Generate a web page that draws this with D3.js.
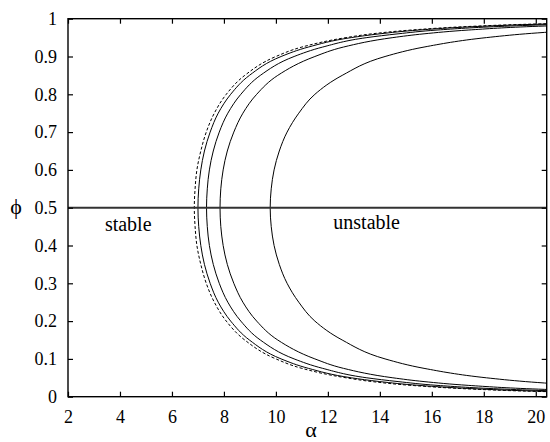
<!DOCTYPE html>
<html>
<head>
<meta charset="utf-8">
<script src="https://cdn.jsdelivr.net/npm/d3@7"></script>
<style>
  body { margin: 0; background: #fff; }
  svg { display: block; }
  svg text { font-family: "Liberation Serif", "Times New Roman", "DejaVu Serif", serif; fill: #000; }
</style>
</head>
<body>
<svg id="chart" width="550" height="442"></svg>
<script>
// ---- data ----
const xTicks = [2, 4, 6, 8, 10, 12, 14, 16, 18, 20];
const yTicks = [0, 0.1, 0.2, 0.3, 0.4, 0.5, 0.6, 0.7, 0.8, 0.9, 1];
const yTickLabels = ["0", "0.1", "0.2", "0.3", "0.4", "0.5", "0.6", "0.7", "0.8", "0.9", "1"];

// phi levels along each boundary curve (lower branch, then upper branch)
const phiLevels = [0.01, 0.015, 0.02, 0.03, 0.04, 0.05, 0.075, 0.1, 0.15, 0.2, 0.25, 0.3, 0.35, 0.4, 0.45,
                   0.5,
                   0.55, 0.6, 0.65, 0.7, 0.75, 0.8, 0.85, 0.9, 0.925, 0.95, 0.96, 0.97, 0.98, 0.985, 0.99];

// alpha at each phi level, per curve
const alphaDashed = [22.7, 19.5, 17.6, 15.2, 13.7, 12.7, 11.0, 10.0, 8.80, 8.09, 7.63, 7.32, 7.11, 6.96, 6.89,
                     6.86,
                     6.89, 6.96, 7.11, 7.32, 7.63, 8.09, 8.80, 10.0, 11.0, 12.7, 13.7, 15.2, 17.6, 19.5, 22.7];
const alphaCurve1 = [23.1, 19.9, 17.95, 15.5, 14.0, 12.9, 11.25, 10.2, 8.98, 8.26, 7.78, 7.47, 7.25, 7.11, 7.03,
                     7.00,
                     7.03, 7.11, 7.25, 7.47, 7.78, 8.26, 8.98, 10.2, 11.25, 12.9, 14.0, 15.5, 17.95, 19.9, 23.1];
const alphaCurve2 = [24.2, 20.9, 18.8, 16.2, 14.7, 13.5, 11.8, 10.7, 9.40, 8.65, 8.15, 7.82, 7.59, 7.44, 7.36,
                     7.33,
                     7.36, 7.44, 7.59, 7.82, 8.15, 8.65, 9.40, 10.7, 11.8, 13.5, 14.7, 16.2, 18.8, 20.9, 24.2];
const alphaCurve3 = [25.9, 22.4, 20.1, 17.4, 15.7, 14.5, 12.6, 11.5, 10.07, 9.26, 8.73, 8.38, 8.13, 7.97, 7.88,
                     7.85,
                     7.88, 7.97, 8.13, 8.38, 8.73, 9.26, 10.07, 11.5, 12.6, 14.5, 15.7, 17.4, 20.1, 22.4, 25.9];
const alphaCurve4 = [null, null, null, 21.7, 19.6, 18.1, 15.7, 14.2, 12.55, 11.5, 10.88, 10.43, 10.13, 9.93, 9.82,
                     9.78,
                     9.82, 9.93, 10.13, 10.43, 10.88, 11.5, 12.55, 14.2, 15.7, 18.1, 19.6, 21.7, null, null, null];

const boundaryPhi = 0.5;
const regionLabels = [
  { text: "stable",   alpha: 3.42,  phi: 0.439 },
  { text: "unstable", alpha: 12.21, phi: 0.444 }
];

// ---- layout ----
const W = 550, H = 442;
const margin = { top: 18.7, right: 3.3, bottom: 45.3, left: 68 };
const iw = W - margin.left - margin.right;
const ih = H - margin.top - margin.bottom;

const svg = d3.select("#chart");
const g = svg.append("g").attr("transform", `translate(${margin.left},${margin.top})`);

const x = d3.scaleLinear().domain([2, 20.42]).range([0, iw]);
const y = d3.scaleLinear().domain([0, 1]).range([ih, 0]);

svg.append("defs").append("clipPath").attr("id", "plotclip")
  .append("rect").attr("x", 0).attr("y", 0).attr("width", iw).attr("height", ih);

// curves
const curves = [
  { alpha: alphaDashed, dash: "3,2" },
  { alpha: alphaCurve1, dash: null },
  { alpha: alphaCurve2, dash: null },
  { alpha: alphaCurve3, dash: null },
  { alpha: alphaCurve4, dash: null }
];

const line = d3.line()
  .defined(d => d.a != null)
  .x(d => x(d.a))
  .y(d => y(d.p))
  .curve(d3.curveMonotoneY);

const plot = g.append("g").attr("clip-path", "url(#plotclip)");
curves.forEach(c => {
  const pts = phiLevels.map((p, i) => ({ p, a: c.alpha[i] }));
  plot.append("path")
    .attr("d", line(pts))
    .attr("fill", "none")
    .attr("stroke", "#000")
    .attr("stroke-width", 1)
    .attr("stroke-dasharray", c.dash);
});

// phi = 0.5 boundary
plot.append("line")
  .attr("x1", 0).attr("x2", iw)
  .attr("y1", y(boundaryPhi)).attr("y2", y(boundaryPhi))
  .attr("stroke", "#333").attr("stroke-width", 2);

// axes (inward ticks on all sides)
const tickLen = 5;
const axB = g.append("g").attr("transform", `translate(0,${ih})`)
  .call(d3.axisBottom(x).tickValues(xTicks).tickSize(-tickLen).tickPadding(14).tickFormat(d3.format("d")));
const axT = g.append("g")
  .call(d3.axisTop(x).tickValues(xTicks).tickSize(-tickLen).tickFormat(""));
const axL = g.append("g")
  .call(d3.axisLeft(y).tickValues(yTicks).tickSize(-tickLen).tickPadding(11).tickFormat((d, i) => yTickLabels[i]));
const axR = g.append("g").attr("transform", `translate(${iw},0)`)
  .call(d3.axisRight(y).tickValues(yTicks).tickSize(-tickLen).tickFormat(""));

[axB, axT, axL, axR].forEach(a => {
  a.attr("font-family", null);
  a.select(".domain").remove();
  a.selectAll(".tick line").attr("stroke", "#000").attr("stroke-width", 1.2);
  a.selectAll("text").attr("font-size", 18).attr("fill", "#000");
});
axB.selectAll(".tick text").attr("dy", "0.71em");

// frame
g.append("rect").attr("x", 0).attr("y", 0).attr("width", iw).attr("height", ih)
  .attr("fill", "none").attr("stroke", "#000").attr("stroke-width", 1.4);

// region labels
g.selectAll(".region").data(regionLabels).enter().append("text")
  .attr("class", "region")
  .attr("x", d => x(d.alpha)).attr("y", d => y(d.phi))
  .attr("font-size", 20)
  .text(d => d.text);

// axis titles
svg.append("text").attr("x", margin.left + x(11.35)).attr("y", 437)
  .attr("text-anchor", "middle").attr("font-size", 22).text("α");
svg.append("text").attr("x", 16).attr("y", margin.top + y(0.5) + 6)
  .attr("text-anchor", "middle").attr("font-size", 22).text("ϕ");
</script>
</body>
</html>
